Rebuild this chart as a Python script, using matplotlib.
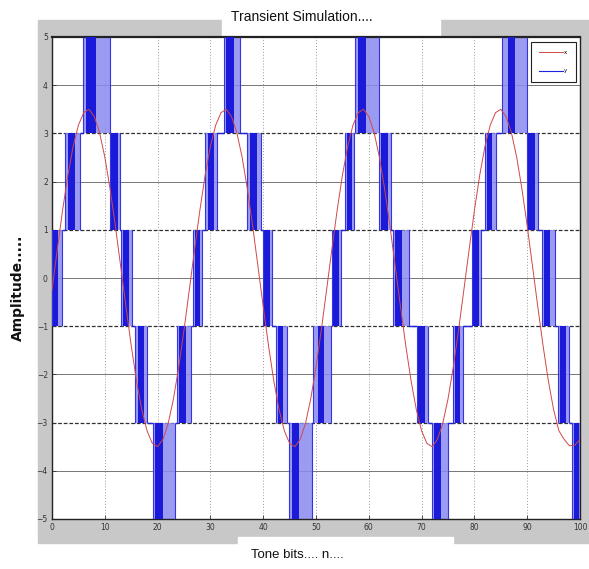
import matplotlib
matplotlib.use("Agg")
import matplotlib.pyplot as plt
from matplotlib.patches import Rectangle

# red reference wave, read at every bit index 0..100
wave_x = list(range(101))
wave_y = [-0.25, 0.59, 1.40, 2.13, 2.73, 3.17, 3.43, 3.50, 3.35, 3.02, 2.51, 1.85, 1.08,
          0.25, -0.59, -1.40, -2.13, -2.73, -3.17, -3.43, -3.50, -3.35, -3.02, -2.51, -1.85, -1.08,
          -0.25, 0.59, 1.40, 2.13, 2.73, 3.17, 3.43, 3.50, 3.35, 3.02, 2.51, 1.85, 1.08,
          0.25, -0.59, -1.40, -2.13, -2.73, -3.17, -3.43, -3.50, -3.35, -3.02, -2.51, -1.85, -1.08,
          -0.25, 0.59, 1.40, 2.13, 2.73, 3.17, 3.43, 3.50, 3.35, 3.02, 2.51, 1.85, 1.08,
          0.25, -0.59, -1.40, -2.13, -2.73, -3.17, -3.43, -3.50, -3.35, -3.02, -2.51, -1.85, -1.08,
          -0.25, 0.59, 1.40, 2.13, 2.73, 3.17, 3.43, 3.50, 3.35, 3.02, 2.51, 1.85, 1.08,
          0.25, -0.59, -1.40, -2.13, -2.73, -3.17, -3.35, -3.48, -3.47, -3.35]

# blue quantised output: switching bands (start, end, low level, dense core)
band_start = [0.0, 2.5, 5.8, 10.9, 13.0, 15.7, 19.1, 23.7, 26.7, 29.0, 32.6, 36.9, 39.9, 42.4, 44.8, 49.4,
              53.0, 55.5, 57.4, 61.9, 64.5, 69.1, 72.0, 76.0, 79.5, 82.0, 85.2, 89.9, 92.8, 95.8, 98.5]
band_end = [1.9, 5.3, 10.9, 12.9, 15.2, 18.0, 23.3, 26.3, 28.4, 31.2, 35.6, 39.6, 41.7, 44.5, 49.2, 52.8,
            54.8, 57.2, 62.0, 64.2, 67.6, 71.2, 75.0, 77.9, 81.3, 84.0, 90.0, 92.0, 95.3, 98.0, 100.0]
band_low = [-1, 1, 3, 1, -1, -3, -5, -3, -1, 1, 3, 1, -1, -3, -5, -3,
            -1, 1, 3, 1, -1, -3, -5, -3, -1, 1, 3, 1, -1, -3, -5]
core_start = [0.0, 3.0, 6.4, 11.2, 13.4, 16.2, 19.6, 24.0, 27.0, 29.6, 33.0, 37.5, 40.2, 42.8, 45.4, 50.4,
              53.3, 55.8, 58.0, 62.4, 65.0, 69.4, 72.4, 76.3, 79.8, 82.4, 86.4, 90.2, 93.2, 96.2, 98.8]
core_end = [1.2, 4.3, 8.3, 12.5, 14.6, 17.4, 21.0, 25.3, 28.0, 30.6, 34.5, 38.8, 41.2, 43.8, 46.8, 51.6,
            54.3, 56.8, 59.5, 63.6, 66.2, 70.6, 73.6, 77.3, 80.8, 83.4, 87.7, 91.4, 94.4, 97.4, 99.8]
step = 2

x_ticks = [0, 10, 20, 30, 40, 50, 60, 70, 80, 90, 100]
y_ticks = [-5, -4, -3, -2, -1, 0, 1, 2, 3, 4, 5]

fig = plt.figure(figsize=(5.89, 5.69), dpi=100, facecolor="white")

# grey matlab-like frame with white boxes behind title / xlabel
fig.patches.append(Rectangle((38 / 589, 1 - 543 / 569), 1 - 38 / 589, (543 - 20) / 569,
                             transform=fig.transFigure, color="#c8c8c8", zorder=-2))
fig.patches.append(Rectangle((222 / 589, 1 - 37 / 569), (440 - 222) / 589, 37 / 569,
                             transform=fig.transFigure, color="white", zorder=-1))
fig.patches.append(Rectangle((238 / 589, 0), (453 - 238) / 589, 32 / 569,
                             transform=fig.transFigure, color="white", zorder=-1))

ax = fig.add_axes([52 / 589, 1 - 519 / 569, 528 / 589, 482 / 569])
ax.set_facecolor("white")
ax.set_xlim(0, 100)
ax.set_ylim(-5, 5)

# grid: dotted verticals, thin solid even levels, darker dashed odd levels
for xv in x_ticks[1:-1]:
    ax.axvline(xv, color="#9a9a9a", lw=0.7, ls=(0, (1, 2)), zorder=1)
for yv in y_ticks[1:-1]:
    if yv % 2 == 0:
        ax.axhline(yv, color="#606060", lw=0.6, zorder=1)
    else:
        ax.axhline(yv, color="#303030", lw=0.9, ls=(0, (3, 1.5)), zorder=1)

for s, e, lo, cs, ce in zip(band_start, band_end, band_low, core_start, core_end):
    hi = lo + step
    ax.fill_between([s, e], [lo, lo], [hi, hi], color="#8a8af0", lw=0, alpha=0.85, zorder=2)
    ax.fill_between([cs, ce], [lo, lo], [hi, hi], color="#1a1ad8", lw=0, zorder=3)
    ax.vlines([s, e], lo, hi, color="#3434e0", lw=0.8, zorder=3)

# holding levels between switching bands
for i in range(len(band_start) - 1):
    a = {band_low[i], band_low[i] + step}
    b = {band_low[i + 1], band_low[i + 1] + step}
    common = a & b
    if common:
        lvl = common.pop()
        ax.hlines(lvl, band_end[i], band_start[i + 1], color="#2020e0", lw=1.0, zorder=3)

ax.plot(wave_x, wave_y, color="#d04848", lw=0.7, zorder=4, label="x")
ax.plot([], [], color="#2020e0", lw=0.8, label="y")

ax.set_xticks(x_ticks)
ax.set_yticks(y_ticks)
ax.tick_params(direction="in", length=3, width=0.6, labelsize=5.5, colors="#333333", pad=3)
for sp in ax.spines.values():
    sp.set_color("#222222")
    sp.set_linewidth(1.0)
ax.spines["top"].set_linewidth(1.6)

leg = ax.legend(loc="upper right", bbox_to_anchor=(0.992, 0.99), borderaxespad=0, fontsize=4,
                handlelength=4.2, handletextpad=0.3, borderpad=1.5, labelspacing=2.4,
                fancybox=False, framealpha=1, edgecolor="#222222")
leg.get_frame().set_linewidth(0.8)

fig.text(302 / 589, 1 - 17 / 569, "Transient Simulation....", ha="center", va="center",
         fontsize=10, family=["Liberation Sans", "DejaVu Sans"], color="#111111")
fig.text(297 / 589, 1 - 555 / 569, "Tone bits.... n....", ha="center", va="center",
         fontsize=9.5, family=["Liberation Sans", "DejaVu Sans"], color="#111111")
fig.text(18 / 589, 1 - 288 / 569, "Amplitude.....", ha="center", va="center", rotation=90,
         fontsize=10, weight="bold", color="#111111")

fig.savefig("out.png", dpi=100, facecolor="white")
